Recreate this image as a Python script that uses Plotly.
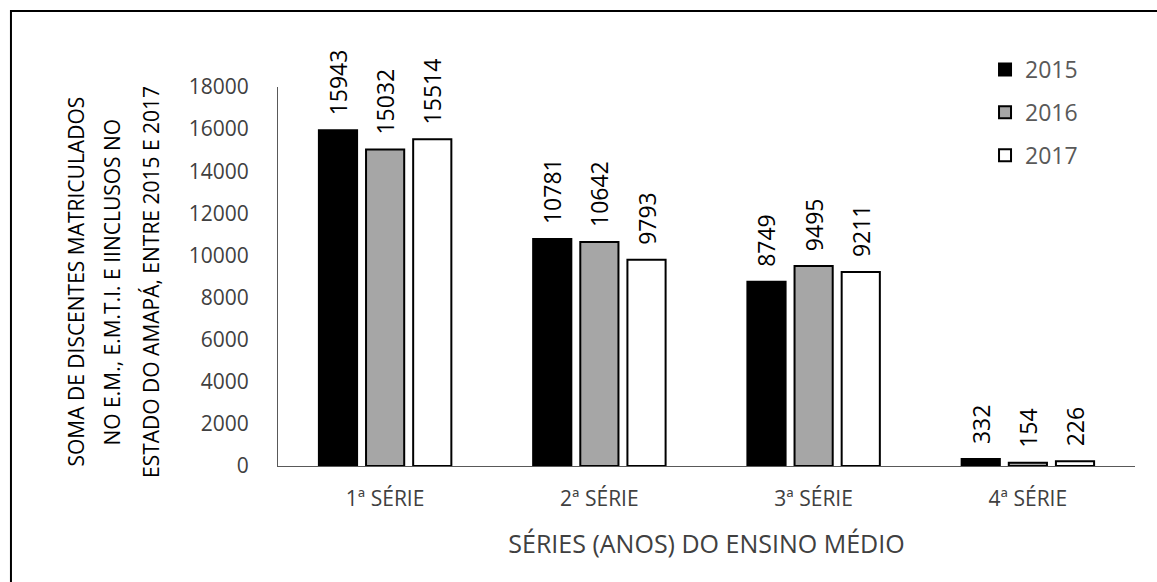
import plotly.graph_objects as go

# Enrolment totals per high-school grade, one series per year
categories = ["1ª SÉRIE", "2ª SÉRIE", "3ª SÉRIE", "4ª SÉRIE"]
years = ["2015", "2016", "2017"]
values_2015 = [15943, 10781, 8749, 332]
values_2016 = [15032, 10642, 9495, 154]
values_2017 = [15514, 9793, 9211, 226]
y_ticks = [0, 2000, 4000, 6000, 8000, 10000, 12000, 14000, 16000, 18000]

fills = ["#000000", "#A6A6A6", "#FFFFFF"]
series = [values_2015, values_2016, values_2017]

FONT = "Open Sans"

fig = go.Figure()
for name, vals, color in zip(years, series, fills):
    fig.add_trace(go.Bar(
        name=name,
        x=categories,
        y=vals,
        marker=dict(color=color, line=dict(color="#000000", width=2)),
        text=vals,
        texttemplate="\u00a0\u00a0%{y}",
        textposition="outside",
        textangle=-90,
        constraintext="none",
        cliponaxis=False,
        outsidetextfont=dict(family=FONT, size=23, color="#000000"),
        legendgroup=name,
    ))

# Three-line vertical axis caption
caption_lines = [
    ("SOMA DE DISCENTES MATRICULADOS", -0.236),
    ("NO E.M., E.M.T.I. E IINCLUSOS NO", -0.194),
    ("ESTADO DO AMAPÁ, ENTRE 2015 E 2017", -0.148),
]
for txt, xp in caption_lines:
    fig.add_annotation(
        text=txt, xref="paper", yref="paper", x=xp, y=0.486,
        xanchor="center", yanchor="middle", textangle=-90,
        showarrow=False, font=dict(family=FONT, size=21, color="#000000"),
    )

# Outer frame around the figure
fig.add_shape(
    type="rect", xref="paper", yref="paper",
    x0=-0.3116, x1=1.3, y0=-0.6, y1=1.2005,
    line=dict(color="#000000", width=2), fillcolor="rgba(0,0,0,0)", layer="above",
)

fig.update_layout(
    width=1157, height=582,
    margin=dict(l=278, r=22, t=87, b=116),
    paper_bgcolor="#FFFFFF", plot_bgcolor="#FFFFFF",
    barmode="group", bargap=0.34, bargroupgap=0.19,
    font=dict(family=FONT, color="#595959"),
    showlegend=True,
    legend=dict(
        x=0.825, y=1.103, xanchor="left", yanchor="top",
        font=dict(family=FONT, size=23, color="#595959"),
        tracegroupgap=10, bgcolor="rgba(0,0,0,0)",
        traceorder="grouped",
    ),
    xaxis=dict(
        showline=True, linecolor="#595959", linewidth=1,
        showgrid=False, ticks="", zeroline=False,
        tickfont=dict(family=FONT, size=21, color="#404040"),
        ticklabelstandoff=14,
        title=dict(text="SÉRIES (ANOS) DO ENSINO MÉDIO",
                   font=dict(family=FONT, size=25, color="#404040"), standoff=24),
    ),
    yaxis=dict(
        range=[0, 18000], tickvals=y_ticks, tickformat="d",
        showline=True, linecolor="#595959", linewidth=1,
        showgrid=False, ticks="", zeroline=False,
        tickfont=dict(family=FONT, size=21, color="#404040"),
        ticklabelstandoff=24,
    ),
)

fig.write_html("out.html")
